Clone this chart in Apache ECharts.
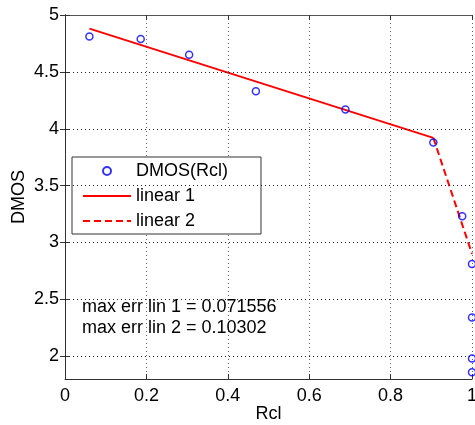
<!DOCTYPE html>
<html>
<head>
<meta charset="utf-8">
<script src="https://cdn.jsdelivr.net/npm/echarts@6/dist/echarts.min.js"></script>
<style>
  html, body { margin: 0; padding: 0; background: #fff; }
  #chart { width: 475px; height: 425px; }
</style>
</head>
<body>
<div id="chart"></div>
<script>
// measured points
var rclVals = [0.06, 0.186, 0.305, 0.469, 0.689, 0.905, 0.976, 1.0, 1.0, 1.0, 1.0];
var dmosVals = [4.81, 4.79, 4.65, 4.33, 4.17, 3.88, 3.23, 2.81, 2.34, 1.98, 1.86];
// piecewise linear fits
var lin1X = [0.06, 0.905];
var lin1Y = [4.88, 3.92];
var lin2X = [0.905, 1.0];
var lin2Y = [3.92, 2.9];
var yTicks = [2, 2.5, 3, 3.5, 4, 4.5, 5];
var notes = ['max err lin 1 = 0.071556', 'max err lin 2 = 0.10302'];

function pairs(xs, ys) {
    return xs.map(function (x, i) { return [x, ys[i]]; });
}

var font = 'Liberation Sans, Arial, Helvetica, sans-serif';
var chart = echarts.init(document.getElementById('chart'));

var option = {
    animation: false,
    backgroundColor: '#fff',
    textStyle: { fontFamily: font },
    grid: { left: 65, right: 3, top: 15, bottom: 46, outerBoundsMode: 'none' },
    legend: {
        orient: 'vertical',
        left: 72,
        top: 157,
        padding: [5, 33, 4, 10],
        itemWidth: 48,
        itemHeight: 8,
        itemGap: 7,
        backgroundColor: '#fff',
        borderColor: '#333',
        borderWidth: 1,
        textStyle: { fontSize: 18, color: '#000', fontFamily: font },
        data: [
            { name: 'DMOS(Rcl)' },
            { name: 'linear 1', itemStyle: { opacity: 0 } },
            { name: 'linear 2', itemStyle: { opacity: 0 } }
        ]
    },
    xAxis: [{
        type: 'value',
        min: 0, max: 1, interval: 0.2,
        name: 'Rcl',
        nameLocation: 'middle',
        nameGap: 26,
        nameMoveOverlap: false,
        nameTextStyle: { fontSize: 18, color: '#000', fontFamily: font },
        axisLine: { lineStyle: { color: '#333' } },
        axisTick: { inside: true, length: 5, lineStyle: { color: '#333' } },
        axisLabel: { fontSize: 18, color: '#000', margin: 8, fontFamily: font },
        splitLine: { show: true, lineStyle: { color: '#666', type: [1, 3] } }
    }, {
        type: 'value',
        position: 'top',
        min: 0, max: 1, interval: 0.2,
        axisLine: { show: true, lineStyle: { color: '#555' } },
        axisTick: { inside: true, length: 5, lineStyle: { color: '#333' } },
        axisLabel: { show: false },
        splitLine: { show: false }
    }],
    yAxis: [{
        type: 'value',
        min: 1.8, max: 5,
        name: 'DMOS',
        nameLocation: 'middle',
        nameGap: 37,
        nameMoveOverlap: false,
        nameTextStyle: { fontSize: 18, color: '#000', fontFamily: font },
        axisLine: { show: true, lineStyle: { color: '#333' } },
        axisTick: { show: true, inside: true, length: 5, customValues: yTicks, lineStyle: { color: '#333' } },
        axisLabel: { fontSize: 18, color: '#000', margin: 6, customValues: yTicks, fontFamily: font },
        splitLine: { show: false }
    }, {
        type: 'value',
        position: 'right',
        min: 1.8, max: 5,
        axisLine: { show: true, lineStyle: { color: '#333' } },
        axisTick: { show: true, inside: true, length: 5, customValues: yTicks, lineStyle: { color: '#333' } },
        axisLabel: { show: false },
        splitLine: { show: false }
    }],
    graphic: [{
        type: 'text',
        left: 82,
        top: 297,
        z: 100,
        style: {
            text: notes.join('\n'),
            font: '18px ' + font,
            lineHeight: 21,
            fill: '#000'
        }
    }],
    series: [
        {
            name: 'DMOS(Rcl)',
            type: 'scatter',
            symbol: 'circle',
            symbolSize: 7,
            z: 5,
            itemStyle: { color: 'rgba(0,0,0,0)', borderColor: '#0000ff', borderWidth: 1.5 },
            data: pairs(rclVals, dmosVals)
        },
        {
            name: 'linear 1',
            type: 'line',
            symbol: 'none',
            lineStyle: { color: '#ff0000', width: 2 },
            itemStyle: { color: '#ff0000' },
            data: pairs(lin1X, lin1Y),
            markLine: {
                silent: true,
                symbol: 'none',
                label: { show: false },
                lineStyle: { color: '#222', type: [1, 3], width: 1 },
                data: yTicks.slice(0, -1).map(function (v) { return { yAxis: v }; })
            }
        },
        {
            name: 'linear 2',
            type: 'line',
            symbol: 'none',
            lineStyle: { color: '#ff0000', width: 2, type: [7, 4] },
            itemStyle: { color: '#ff0000' },
            data: pairs(lin2X, lin2Y)
        }
    ]
};

chart.setOption(option);
</script>
</body>
</html>
